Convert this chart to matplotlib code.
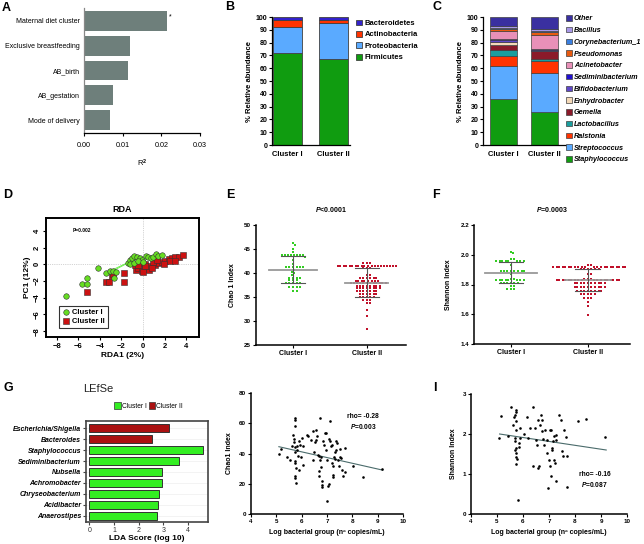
import numpy as np
import matplotlib
matplotlib.use('Agg')
import matplotlib.pyplot as plt
from matplotlib.patches import Patch

plt.rcParams['font.family'] = ['Liberation Sans', 'DejaVu Sans']
plt.rcParams['mathtext.fontset'] = 'custom'
plt.rcParams['mathtext.rm'] = 'Liberation Sans:bold'
plt.rcParams['mathtext.it'] = 'Liberation Sans:italic:bold'
plt.rcParams['axes.linewidth'] = 0.9
plt.rcParams['xtick.major.size'] = 2
plt.rcParams['ytick.major.size'] = 2
plt.rcParams['xtick.major.width'] = 0.8
plt.rcParams['ytick.major.width'] = 0.8
plt.rcParams['xtick.major.pad'] = 1.5
plt.rcParams['ytick.major.pad'] = 1.5

# ---- A: PERMANOVA R2
a_vars = ['Maternal diet cluster', 'Exclusive breastfeeding', 'AB_birth', 'AB_gestation', 'Mode of delivery']
a_r2 = [0.0215, 0.0120, 0.0113, 0.0075, 0.0067]

# ---- B: phylum relative abundance
clusters = ['Cluster I', 'Cluster II']
phyla = ['Firmicutes', 'Proteobacteria', 'Actinobacteria', 'Bacteroidetes']
phyla_c1 = [72.0, 20.0, 5.5, 2.5]
phyla_c2 = [67.5, 28.0, 2.5, 1.8]
phyla_colors = ['#109c10', '#5aaaff', '#ff3300', '#3322cc']

# ---- C: genus relative abundance
genera = ['Staphylococcus', 'Streptococcus', 'Ralstonia', 'Lactobacillus', 'Gemella',
          'Enhydrobacter', 'Bifidobacterium', 'Sediminibacterium', 'Acinetobacter',
          'Pseudomonas', 'Corynebacterium_1', 'Bacillus', 'Other']
genera_c1 = [35.8, 26.3, 7.1, 5.2, 3.4, 2.6, 1.3, 1.3, 5.8, 1.8, 1.0, 1.0, 7.4]
genera_c2 = [26.1, 30.0, 9.7, 1.3, 6.0, 0.6, 0.8, 0.6, 11.2, 1.6, 0.8, 1.6, 9.7]
genera_colors = ['#109c10', '#5aaaff', '#ff3300', '#1a9e9e', '#8b1a2a', '#f4d9b8', '#6048c8',
                 '#2010d0', '#e890b8', '#e85a10', '#3a7fe0', '#a898e8', '#3a30a0']

# ---- D: RDA ordination
rda_g_x = [-7.16, -5.64, -5.24, -5.18, -4.16, -3.44, -3.07, -2.76, -2.5, -2.67, -1.42, -1.2, -0.99,
           -0.81, -0.59, -0.28, -0.07, 0.25, 0.5, 0.74, 0.96, 1.18, 1.43, 1.74, -1.2, -0.79, -0.43, 0.0]
rda_g_y = [-3.8, -2.4, -2.3, -1.68, -0.48, -1.0, -0.8, -0.76, -0.96, -1.68, 0.12, 0.52, 0.72,
           1.0, 0.92, 0.72, 0.52, 1.0, 0.84, 0.72, 0.92, 1.24, 1.0, 1.12, 0.04, 0.2, 0.44, 0.32]
rda_r_x = [-5.18, -3.44, -3.16, -2.92, -2.76, -1.74, -1.74, -0.68, -0.44, -0.12, 0.22, 0.53, -0.71,
           -0.25, 0.22, 0.69, 1.15, 1.46, 1.77, 2.08, 2.39, 2.7, 3.0, 3.32, 3.69, 0.91, 1.32, 1.93,
           2.55, 3.0, -0.44, 0.22, 0.84, 0.0]
rda_r_y = [-3.36, -2.16, -2.08, -1.4, -1.2, -1.08, -2.16, -0.68, -0.48, -0.76, -0.56, -0.64, -0.08,
           0.12, 0.04, -0.24, -0.08, 0.12, 0.32, 0.44, 0.6, 0.72, 0.92, 0.92, 1.08, 0.32, 0.52, 0.04,
           0.44, 0.44, -0.08, -0.24, -0.44, -0.88]
rda_spider_from = (-0.6, 0.7)
rda_spider_to_x = [-3.07, -2.76]
rda_spider_to_y = [-0.8, -0.76]

# ---- E: Chao1 by cluster
chao_c1 = [46.3, 45.9, 45.0, 44.3] + [43.8] * 8 + [43.4, 42.7, 41.8] + [41.2] * 6 + \
          [40.7, 40.3, 39.9, 39.5] + [39.0] * 4 + [38.5] * 3 + [37.9] * 5 + [37.1] * 4 + [36.2] * 2
chao_c2 = [42.0] * 3 + [41.5] * 20 + [41.0] * 3 + [39.6] * 2 + [38.9] * 6 + [38.4] * 8 + \
          [37.85] * 12 + [37.35] * 8 + [36.8] * 8 + [36.25] * 7 + [35.7] * 6 + [35.1] * 5 + \
          [34.4] * 3 + [33.8] * 2 + [32.3, 31.1, 28.3]
chao_mean = [40.7, 38.0]
chao_sd = [2.8, 3.0]

# ---- F: Shannon by cluster
shan_c1 = [2.02, 2.01] + [1.97] * 2 + [1.96] * 8 + [1.93] + [1.89] * 8 + [1.87] + [1.84] * 2 + \
          [1.83] * 8 + [1.81] * 6 + [1.79] * 2 + [1.77] * 3
shan_c2 = [1.931] * 2 + [1.918] * 22 + [1.904] * 6 + [1.868] * 2 + [1.84] * 3 + [1.832] * 18 + \
          [1.808] * 10 + [1.781] * 10 + [1.758] * 8 + [1.734] * 5 + [1.711] * 3 + [1.685, 1.658, 1.595]
shan_mean = [1.88, 1.83]
shan_sd = [0.073, 0.075]

# ---- G: LEfSe
lefse_taxa = ['Escherichia/Shigella', 'Bacteroides', 'Staphylococcus', 'Sediminibacterium', 'Nubsella',
              'Achromobacter', 'Chryseobacterium', 'Acidibacter', 'Anaerostipes']
lefse_lda = [3.25, 2.55, 4.6, 3.65, 2.95, 2.93, 2.83, 2.8, 2.75]
lefse_group = [2, 2, 1, 1, 1, 1, 1, 1, 1]

# ---- H, I: correlation with bacterial load
h_pts = [(5.10, 39.4), (5.18, 42.7), (5.42, 37.9), (5.55, 36.0), (5.60, 45.0), (5.65, 52.4), (5.68, 49.5),
         (5.68, 47.4), (5.72, 63.4), (5.73, 62.3), (5.74, 58.0), (5.74, 44.0), (5.74, 41.0), (5.72, 34.8),
         (5.75, 33.7), (5.72, 24.9), (5.73, 23.8), (5.76, 30.4), (5.78, 20.5), (5.80, 44.7), (5.83, 42.5),
         (5.87, 38.1), (5.88, 29.3), (5.90, 48.5), (5.94, 45.8), (5.97, 37.7), (6.03, 50.2), (6.05, 45.2),
         (6.07, 32.6), (6.20, 52.4), (6.24, 51.7), (6.36, 49.0), (6.44, 54.6), (6.46, 35.9), (6.48, 40.8),
         (6.53, 47.4), (6.55, 49.1), (6.57, 55.7), (6.62, 51.3), (6.66, 39.2), (6.70, 38.1), (6.68, 28.2),
         (6.70, 24.9), (6.73, 63.4), (6.72, 35.9), (6.75, 37.7), (6.77, 31.0), (6.80, 21.6), (6.81, 19.4),
         (6.80, 17.6), (6.86, 48.0), (6.88, 45.4), (6.93, 53.5), (6.97, 53.5), (6.97, 42.5), (7.00, 36.0),
         (7.00, 8.4), (7.04, 18.7), (7.07, 19.8), (7.08, 49.5), (7.12, 48.0), (7.12, 61.2), (7.15, 44.7),
         (7.18, 45.8), (7.18, 34.0), (7.22, 32.0), (7.22, 26.0), (7.25, 24.4), (7.28, 38.0), (7.30, 36.3),
         (7.30, 40.8), (7.34, 42.5), (7.37, 48.0), (7.40, 47.0), (7.42, 36.0), (7.46, 31.5), (7.50, 43.0),
         (7.53, 37.5), (7.55, 37.3), (7.60, 29.3), (7.64, 24.9), (7.70, 27.5), (7.73, 43.6), (8.04, 32.0),
         (8.43, 24.4), (9.19, 29.7)]
h_fit_x = [5.1, 9.2]
h_fit_y = [44.5, 29.0]
i_pts = [(5.09, 1.91), (5.16, 2.46), (5.44, 1.94), (5.54, 2.68), (5.63, 2.22), (5.66, 2.43), (5.70, 2.48),
         (5.68, 1.90), (5.70, 1.82), (5.71, 1.61), (5.72, 1.43), (5.72, 1.65), (5.74, 1.52), (5.72, 2.61),
         (5.72, 2.54), (5.74, 2.33), (5.74, 2.11), (5.77, 1.38), (5.74, 1.25), (5.79, 0.36), (5.83, 1.78),
         (5.84, 1.68), (5.87, 1.90), (5.90, 2.15), (6.02, 2.00), (6.15, 2.43), (6.21, 1.90), (6.25, 2.14),
         (6.40, 2.67), (6.40, 1.19), (6.47, 2.15), (6.51, 1.86), (6.53, 1.73), (6.56, 1.14), (6.60, 1.19),
         (6.58, 2.36), (6.66, 2.23), (6.70, 2.48), (6.72, 2.36), (6.72, 2.07), (6.75, 1.88), (6.79, 1.73),
         (6.85, 2.11), (6.92, 1.86), (6.94, 1.52), (6.96, 0.65), (7.00, 1.36), (7.02, 1.19), (7.05, 2.09),
         (7.07, 2.11), (7.08, 0.94), (7.10, 1.65), (7.13, 1.59), (7.15, 1.82), (7.18, 1.94), (7.20, 1.36),
         (7.24, 1.27), (7.25, 1.86), (7.28, 1.98), (7.28, 0.82), (7.37, 2.48), (7.47, 2.36), (7.50, 1.57),
         (7.52, 1.44), (7.56, 2.11), (7.66, 1.92), (7.71, 1.44), (7.71, 0.67), (8.11, 2.32), (8.42, 2.38),
         (9.17, 1.93)]
i_fit_x = [5.1, 9.2]
i_fit_y = [2.0, 1.6]

W, H = 644, 544
fig = plt.figure(figsize=(W / 100, H / 100), dpi=100)


def box(l, t, r, b):
    return [l / W, 1 - b / H, (r - l) / W, (b - t) / H]


def letter(x, y, s):
    fig.text(x / W, 1 - y / H, s, fontsize=9, fontweight='bold', va='center', ha='left')


def swarm_x(ax, xc, vals, d):
    # simple beeswarm in pixel space, returns data x values
    trans = ax.transData
    pts = trans.transform(np.column_stack([np.full(len(vals), xc), vals]))
    x0 = pts[0, 0]
    placed = []
    out = []
    steps = [0]
    for k in range(1, 80):
        steps += [k * d * 0.5, -k * d * 0.5]
    for yp in pts[:, 1]:
        for s in steps:
            xp = x0 + s
            ok = all((xp - qx) ** 2 + (yp - qy) ** 2 >= d ** 2 for qx, qy in placed)
            if ok:
                break
        placed.append((xp, yp))
        out.append(trans.inverted().transform((xp, yp))[0])
    return out


# ================= A
ax = fig.add_axes(box(84, 8.5, 200, 132.5))
ya = np.arange(len(a_vars))
ax.barh(ya, a_r2, height=0.8, color='#6e7f7b')
ax.text(a_r2[0] + 0.0004, 0 - 0.15, '*', fontsize=5, va='center')
ax.set_ylim(len(a_vars) - 0.5, -0.5)
ax.set_xlim(0, 0.03)
ax.set_xticks([0, 0.01, 0.02, 0.03])
ax.set_xticklabels(['0.00', '0.01', '0.02', '0.03'], fontsize=5.2)
ax.set_yticks(ya)
ax.set_yticklabels(a_vars, fontsize=5)
ax.tick_params(axis='y', length=0, pad=3)
ax.tick_params(axis='x', length=2, pad=5)
ax.spines['top'].set_visible(False)
ax.spines['right'].set_visible(False)
ax.spines['left'].set_color('#888888')
ax.set_xlabel('R$^2$', fontsize=5.5, labelpad=6)
letter(2, 8, 'A')

# ================= B
ax = fig.add_axes(box(272, 17, 350, 145))
bottom = np.zeros(2)
for i, ph in enumerate(phyla):
    vals = np.array([phyla_c1[i], phyla_c2[i]])
    ax.bar([0, 1], vals, bottom=bottom, width=0.64, color=phyla_colors[i], edgecolor='#404040',
           linewidth=0.6, label=ph)
    bottom += vals
ax.set_xlim(-0.34, 1.37)
ax.set_ylim(0, 100)
ax.set_yticks(range(0, 101, 10))
ax.tick_params(labelsize=5)
for t in ax.get_yticklabels():
    t.set_fontweight('bold')
ax.set_xticks([0, 1])
ax.set_xticklabels(clusters, fontsize=5.5, fontweight='bold')
ax.tick_params(axis='x', length=0, pad=4)
ax.spines['top'].set_visible(False)
ax.spines['right'].set_visible(False)
ax.set_ylabel('% Relative abundance', fontsize=5.5, fontweight='bold', labelpad=2)
h, l = ax.get_legend_handles_labels()
ax.legend(h[::-1], l[::-1], loc='upper left', bbox_to_anchor=(356 / W, 1 - 19.5 / H),
          bbox_transform=fig.transFigure, frameon=False, handlelength=0.8,
          handleheight=0.8, handletextpad=0.3, labelspacing=0.5, borderpad=0, borderaxespad=0,
          prop={'weight': 'bold', 'size': 5.5})
letter(225, 7, 'B')

# ================= C
ax = fig.add_axes(box(483, 17, 567, 145))
bottom = np.zeros(2)
for i, g in enumerate(genera):
    vals = np.array([genera_c1[i], genera_c2[i]])
    ax.bar([0, 1], vals, bottom=bottom, width=0.66, color=genera_colors[i], edgecolor='#404040',
           linewidth=0.5, label=g)
    bottom += vals
ax.set_xlim(-0.5, 1.55)
ax.set_ylim(0, 100)
ax.set_yticks(range(0, 101, 10))
ax.tick_params(labelsize=5)
for t in ax.get_yticklabels():
    t.set_fontweight('bold')
ax.set_xticks([0, 1])
ax.set_xticklabels(clusters, fontsize=5.5, fontweight='bold')
ax.tick_params(axis='x', length=0, pad=4)
ax.spines['top'].set_visible(False)
ax.spines['right'].set_visible(False)
ax.set_ylabel('% Relative abundance', fontsize=5.5, fontweight='bold', labelpad=2)
h, l = ax.get_legend_handles_labels()
ax.legend(h[::-1], l[::-1], loc='upper left', bbox_to_anchor=(566 / W, 1 - 15 / H),
          bbox_transform=fig.transFigure, frameon=False, handlelength=0.8,
          handleheight=0.8, handletextpad=0.3, labelspacing=0.62, borderpad=0, borderaxespad=0,
          prop={'weight': 'bold', 'style': 'italic', 'size': 5.2})
letter(432, 7, 'C')

# ================= D
ax = fig.add_axes(box(46, 218, 199, 337))
ax.axhline(0, color='#aaaaaa', lw=0.5, ls=':')
ax.axvline(0, color='#aaaaaa', lw=0.5, ls=':')
for tx, ty in zip(rda_spider_to_x, rda_spider_to_y):
    ax.plot([rda_spider_from[0], tx], [rda_spider_from[1], ty], color='#66ee44', lw=0.6, zorder=2)
ax.scatter(rda_r_x, rda_r_y, marker='s', s=14, c='#cc1111', edgecolors='#333333', linewidths=0.4,
           zorder=3, label='Cluster II')
ax.scatter(rda_g_x, rda_g_y, marker='o', s=16, c='#66dd22', edgecolors='#333333', linewidths=0.4,
           zorder=4, label='Cluster I')
ax.set_xlim(-9.0, 5.2)
ax.set_ylim(-8.7, 5.55)
ax.set_xticks([-8, -6, -4, -2, 0, 2, 4])
ax.set_yticks([4, 2, 0, -2, -4, -6, -8])
ax.tick_params(labelsize=5.5, length=2.5)
for t in ax.get_xticklabels():
    t.set_fontweight('bold')
for t in ax.get_yticklabels():
    t.set_fontweight('bold')
    t.set_rotation(90)
    t.set_va('center')
for s in ax.spines.values():
    s.set_linewidth(1.4)
ax.text(-6.5, 4.0, 'P=0.002', fontsize=3.5, fontweight='bold', va='center')
ax.set_title('RDA', fontsize=6.5, fontweight='bold', pad=4)
ax.set_xlabel('RDA1 (2%)', fontsize=6, fontweight='bold', labelpad=2)
ax.set_ylabel('PC1 (12%)', fontsize=6, fontweight='bold', labelpad=2)
h, l = ax.get_legend_handles_labels()
leg = ax.legend(h[::-1], l[::-1], loc='lower left', bbox_to_anchor=(0.06, 0.04),
                prop={'weight': 'bold', 'size': 5.5}, handletextpad=0.3, labelspacing=0.2,
                borderpad=0.4, fancybox=False, edgecolor='black', handlelength=1.0)
leg.get_frame().set_linewidth(0.8)
letter(3, 195, 'D')


# ================= E and F (dot plots)
def dot_panel(rect, g_vals, r_vals, means, sds, ylim, yticks, ylabel, title, xl, mean_hw, d):
    ax = fig.add_axes(rect)
    ax.set_xlim(*xl)
    ax.set_ylim(*ylim)
    gx = swarm_x(ax, 0, g_vals, d)
    rx = swarm_x(ax, 1, r_vals, d)
    ax.scatter(gx, g_vals, marker='s', s=3.2, c='#33cc22', linewidths=0, zorder=3)
    ax.scatter(rx, r_vals, marker='s', s=3.2, c='#c0102a', linewidths=0, zorder=3)
    for i in range(2):
        ax.plot([i - mean_hw[i], i + mean_hw[i]], [means[i]] * 2, color='#999999', lw=1.3, zorder=4)
        ax.plot([i - 0.16, i + 0.16], [means[i] + sds[i]] * 2, color='#555555', lw=0.8, zorder=4)
        ax.plot([i - 0.16, i + 0.16], [means[i] - sds[i]] * 2, color='#555555', lw=0.8, zorder=4)
        ax.plot([i, i], [means[i] - sds[i], means[i] + sds[i]], color='#555555', lw=0.8, zorder=4)
    ax.set_yticks(yticks)
    ax.set_xticks([0, 1])
    ax.set_xticklabels(clusters, fontsize=5, fontweight='bold')
    ax.tick_params(axis='y', labelsize=4.5)
    for t in ax.get_yticklabels():
        t.set_fontweight('bold')
    ax.spines['top'].set_visible(False)
    ax.spines['right'].set_visible(False)
    ax.spines['left'].set_linewidth(1.1)
    ax.spines['bottom'].set_linewidth(1.1)
    ax.set_ylabel(ylabel, fontsize=5, fontweight='bold', labelpad=6)
    ax.set_title(title, fontsize=5, fontweight='bold', pad=9)
    return ax


dot_panel(box(256, 225, 406, 345), chao_c1, chao_c2, chao_mean, chao_sd, (25, 50),
          [25, 30, 35, 40, 45, 50], 'Chao 1 Index', '$\\it{P}$<0.0001', (-0.5, 1.53), [0.32, 0.29], 2.4)
letter(226, 195, 'E')
dot_panel(box(474, 225, 630, 344), shan_c1, shan_c2, shan_mean, shan_sd, (1.4, 2.2),
          [1.4, 1.6, 1.8, 2.0, 2.2], 'Shannon Index', '$\\it{P}$=0.0003', (-0.48, 1.55), [0.34, 0.3], 2.4)
letter(432, 195, 'F')

# ================= G
ax = fig.add_axes(box(86, 421, 208, 522))
yg = np.arange(len(lefse_taxa))
cols = ['#33ee22' if g == 1 else '#aa1111' for g in lefse_group]
ax.barh(yg, lefse_lda, height=0.76, color=cols, edgecolor='#333333', linewidth=0.7, zorder=3)
for y in yg:
    ax.axhline(y, color='#eeeeee', lw=0.5, zorder=1)
ax.set_xlim(-0.14, 4.82)
ax.set_ylim(len(lefse_taxa) - 0.45, -0.64)
ax.set_xticks([0, 1, 2, 3, 4])
ax.set_yticks(yg)
ax.set_yticklabels(lefse_taxa, fontsize=5, fontweight='bold', style='italic')
ax.tick_params(axis='x', labelsize=5, length=2, colors='#444444')
ax.tick_params(axis='y', length=2, colors='#444444')
for t in ax.get_yticklabels():
    t.set_color('black')
for t in ax.get_xticklabels():
    t.set_color('#333333')
for s in ax.spines.values():
    s.set_linewidth(1.2)
    s.set_color('#444444')
ax.set_xlabel('LDA Score (log 10)', fontsize=6, fontweight='bold', labelpad=1)
fig.text(83 / W, 1 - 389 / H, 'LEfSe', fontsize=8, ha='left', va='center', color='#222222')
fig.legend(handles=[Patch(facecolor='#33ee22', edgecolor='#333333', linewidth=0.5, label='Cluster I'),
                    Patch(facecolor='#aa1111', edgecolor='#333333', linewidth=0.5, label='Cluster II')],
           loc='center left', bbox_to_anchor=(114 / W, 1 - 406 / H), ncol=2, frameon=False,
           fontsize=4.8, handlelength=1.0, handleheight=1.2, handletextpad=0.15, columnspacing=0.3,
           borderpad=0, borderaxespad=0)
letter(3, 388, 'G')


# ================= H and I
def corr_panel(rect, pts, fx, fy, ylim, yticks, ylabel):
    ax = fig.add_axes(rect)
    px = [p[0] for p in pts]
    py = [p[1] for p in pts]
    ax.scatter(px, py, s=3.5, c='black', linewidths=0, zorder=3)
    ax.plot(fx, fy, color='#4a6b6b', lw=0.8, zorder=2)
    ax.set_xlim(4, 10)
    ax.set_ylim(*ylim)
    ax.set_xticks(range(4, 11))
    ax.set_yticks(yticks)
    ax.tick_params(labelsize=4.5)
    for t in ax.get_xticklabels() + ax.get_yticklabels():
        t.set_fontweight('bold')
    ax.spines['top'].set_visible(False)
    ax.spines['right'].set_visible(False)
    ax.spines['left'].set_linewidth(1.1)
    ax.spines['bottom'].set_linewidth(1.1)
    ax.set_ylabel(ylabel, fontsize=5, fontweight='bold', labelpad=4)
    ax.set_xlabel('Log bacterial group (nº copies/mL)', fontsize=5, fontweight='bold', labelpad=4)
    return ax


ax = corr_panel(box(251, 393, 403, 514), h_pts, h_fit_x, h_fit_y, (0, 80), [0, 20, 40, 60, 80],
                'Chao1 Index')
ax.text(8.42, 61, 'rho= -0.28\n$\\it{P}$=0.003', fontsize=4.8, fontweight='bold', ha='center',
        va='center', linespacing=1.3)
ax = corr_panel(box(471, 394, 627, 514), i_pts, i_fit_x, i_fit_y, (0, 3), [0, 1, 2, 3],
                'Shannon Index')
ax.text(8.75, 0.85, 'rho= -0.16\n$\\it{P}$=0.087', fontsize=4.8, fontweight='bold', ha='center',
        va='center', linespacing=1.3)
letter(433, 388, 'I')

fig.savefig('out.png', dpi=100)
